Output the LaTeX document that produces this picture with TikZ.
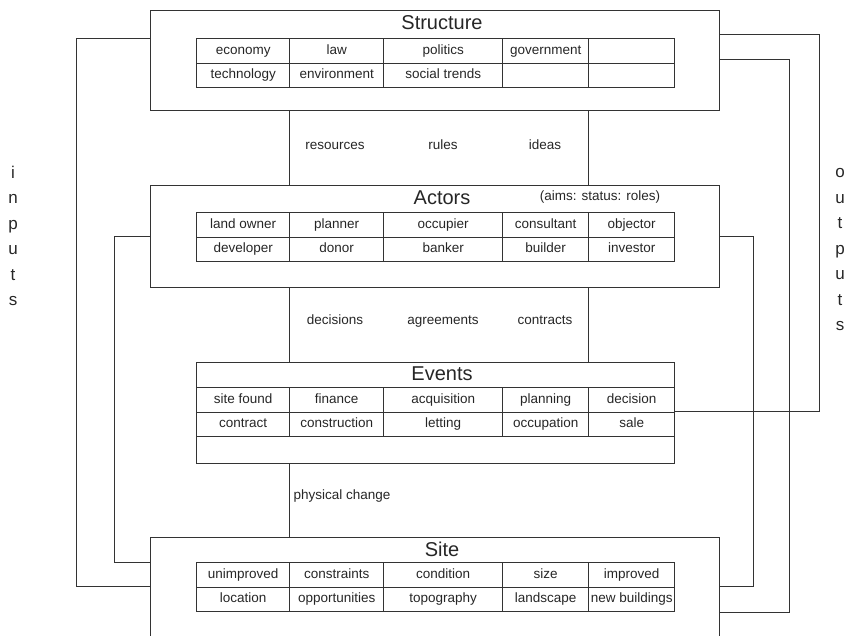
\documentclass[tikz,border=0pt]{standalone}
\usepackage{fontspec}
\setmainfont{Liberation Sans}
\usepackage{tikz}
\usetikzlibrary{positioning, matrix, calc}

\begin{document}
\begin{tikzpicture}[
    x=1pt, y=-1pt,
    every node/.style={text=black!85},
    frame/.style={rectangle, draw=black!80, line width=1pt, anchor=north west, minimum width=569pt, inner sep=0pt},
    title/.style={font=\fontsize{20}{24}\selectfont},
    note/.style={font=\fontsize{13.5}{16}\selectfont, text height=10pt, text depth=3pt},
    cell/.style={rectangle, draw=black!80, line width=1pt, minimum height=24.5pt, inner sep=0pt, text height=10pt, text depth=3pt, font=\fontsize{13.5}{16}\selectfont},
    grid/.style={matrix of nodes, anchor=north west, inner sep=0pt, nodes in empty cells, nodes={cell}, column sep=-1pt, row sep=-1pt,
        column 1/.style={nodes={minimum width=93pt}},
        column 2/.style={nodes={minimum width=94pt}},
        column 3/.style={nodes={minimum width=119pt}},
        column 4/.style={nodes={minimum width=86pt}},
        column 5/.style={nodes={minimum width=86pt}}},
    link/.style={draw=black!80, line width=1pt},
    letters/.style={align=center, font=\fontsize{17}{25.5}\selectfont}
]
\clip (0,0) rectangle (848,635);

% Boxes
\node[frame, minimum height=100pt] (structure) at (150,10) {};
\node[frame, minimum height=102pt] (actors) at (150,185) {};
\node[frame, minimum width=478pt, minimum height=101pt] (events) at (196,362) {};
\node[frame, minimum height=120pt] (site) at (150,537) {};

% Titles
\node[title] (structtitle) at (442,23) {Structure};
\node[title] (actorstitle) at (442,198) {Actors};
\node[note] (aims) at (600,197) {(aims: status: roles)};
\node[title] (eventstitle) at (442,374) {Events};
\node[title] (sitetitle) at (442,549) {Site};

% Tables
\matrix[grid] (structgrid) at (196,38) {
    economy & law & politics & government & \\
    technology & environment & social trends & & \\
};
\matrix[grid] (actorsgrid) at (196,212) {
    land owner & planner & occupier & consultant & objector \\
    developer & donor & banker & builder & investor \\
};
\matrix[grid] (eventsgrid) at (196,387) {
    site found & finance & acquisition & planning & decision \\
    contract & construction & letting & occupation & sale \\
};
\matrix[grid] (sitegrid) at (196,562) {
    unimproved & constraints & condition & size & improved \\
    location & opportunities & topography & landscape & new buildings \\
};

% Labels
\node[note] (resources) at (335,146) {resources};
\node[note] (rules) at (443,146) {rules};
\node[note] (ideas) at (545,146) {ideas};
\node[note] (decisions) at (335,321) {decisions};
\node[note] (agreements) at (443,321) {agreements};
\node[note] (contracts) at (545,321) {contracts};
\node[note, anchor=west] (change) at (290,496) {physical change};
\node[letters] (inputs) at (13,236) {i\\n\\p\\u\\t\\s};
\node[letters] (outputs) at (840,250) {o\\u\\t\\p\\u\\t\\s};

% Edges
\draw[link] (structure.south -| structgrid-2-2.west) -- (actors.north -| structgrid-2-2.west);
\draw[link] (structure.south -| structgrid-2-5.west) -- (actors.north -| structgrid-2-5.west);
\draw[link] (actors.south -| actorsgrid-2-2.west) -- (events.north -| actorsgrid-2-2.west);
\draw[link] (actors.south -| actorsgrid-2-5.west) -- (events.north -| actorsgrid-2-5.west);
\draw[link] (events.south -| eventsgrid-2-2.west) -- (site.north -| eventsgrid-2-2.west);

\draw[link] (structure.west |- structgrid.north) -- ++(-74,0) |- (site.west |- sitegrid-2-1.north);
\draw[link] (actors.west |- actorsgrid-2-1.north) -- ++(-36,0) |- (site.west |- sitegrid.north);
\draw[link] ([yshift=-24pt]structure.north east) -- ++(99,0) |- (eventsgrid-2-5.north east);
\draw[link] ([yshift=-49pt]structure.north east) -- ++(69,0) |- (site.east |- sitegrid.south);
\draw[link] (actors.east |- actorsgrid-2-5.north) -- ++(33,0) |- (site.east |- sitegrid-2-5.north);

\end{tikzpicture}
\end{document}
